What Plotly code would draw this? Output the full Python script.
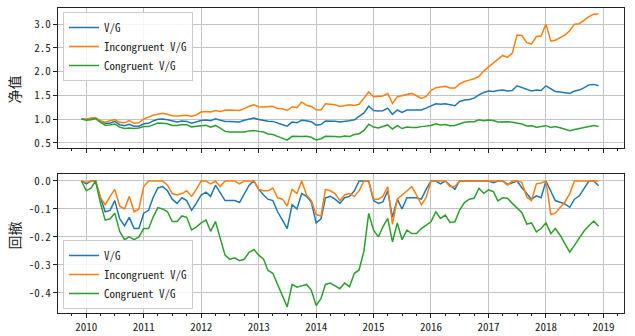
import pandas as pd
import plotly.graph_objects as go
from plotly.subplots import make_subplots

dates = pd.date_range("2009-12-01", periods=109, freq="MS")

nav_vg = [
    1.00, 0.99, 1.01, 1.02, 0.96, 0.91, 0.91, 0.95, 0.88, 0.857,
    0.887, 0.847, 0.847, 0.90, 0.91, 0.96, 0.995, 1.00, 0.985, 0.955,
    0.94, 0.96, 0.95, 0.91, 0.94, 0.97, 0.98, 0.965, 1.005, 0.98,
    0.95, 0.95, 0.95, 0.94, 0.975, 1.005, 1.02, 0.99, 0.97, 0.955,
    0.95, 0.91, 0.88, 0.85, 0.935, 0.92, 0.975, 0.965, 0.945, 0.87,
    0.885, 0.96, 0.965, 0.955, 0.94, 0.96, 0.965, 0.985, 1.06, 1.13,
    1.27, 1.18, 1.17, 1.175, 1.23, 1.10, 1.19, 1.14, 1.19, 1.19,
    1.19, 1.19, 1.23, 1.28, 1.32, 1.31, 1.32, 1.30, 1.28, 1.37,
    1.40, 1.41, 1.44, 1.51, 1.56, 1.59, 1.58, 1.60, 1.61, 1.59,
    1.60, 1.70, 1.66, 1.62, 1.59, 1.61, 1.60, 1.70, 1.63, 1.58,
    1.57, 1.56, 1.54, 1.59, 1.61, 1.66, 1.72, 1.73, 1.70,
]
nav_incong = [
    1.00, 0.995, 1.02, 1.02, 0.96, 0.935, 0.965, 0.99, 0.93, 0.92,
    0.965, 0.91, 0.92, 1.00, 1.04, 1.08, 1.10, 1.12, 1.10, 1.07,
    1.065, 1.07, 1.08, 1.06, 1.085, 1.15, 1.16, 1.15, 1.18, 1.16,
    1.185, 1.19, 1.19, 1.18, 1.22, 1.27, 1.30, 1.26, 1.255, 1.255,
    1.27, 1.22, 1.215, 1.18, 1.26, 1.24, 1.36, 1.29, 1.265, 1.195,
    1.19, 1.32, 1.31, 1.30, 1.265, 1.29, 1.30, 1.285, 1.31, 1.44,
    1.57, 1.47, 1.47, 1.485, 1.54, 1.33, 1.47, 1.49, 1.515, 1.54,
    1.49, 1.435, 1.475, 1.60, 1.66, 1.67, 1.69, 1.655, 1.655, 1.74,
    1.79, 1.82, 1.85, 1.90, 2.01, 2.10, 2.18, 2.25, 2.34, 2.30,
    2.39, 2.77, 2.76, 2.61, 2.58, 2.74, 2.75, 3.00, 2.64, 2.66,
    2.71, 2.77, 2.86, 3.00, 3.01, 3.09, 3.16, 3.21, 3.22,
]
nav_cong = [
    1.00, 0.975, 0.985, 1.01, 0.93, 0.87, 0.875, 0.895, 0.83, 0.80,
    0.81, 0.80, 0.81, 0.84, 0.84, 0.88, 0.915, 0.91, 0.90, 0.865,
    0.865, 0.885, 0.88, 0.835, 0.845, 0.86, 0.87, 0.83, 0.865, 0.81,
    0.74, 0.725, 0.73, 0.72, 0.725, 0.75, 0.76, 0.74, 0.725, 0.685,
    0.675, 0.635, 0.595, 0.555, 0.635, 0.625, 0.63, 0.635, 0.615, 0.56,
    0.585, 0.635, 0.64, 0.63, 0.62, 0.64, 0.63, 0.675, 0.69, 0.76,
    0.89, 0.83, 0.81, 0.845, 0.875, 0.79, 0.86, 0.80, 0.83, 0.82,
    0.82, 0.84, 0.85, 0.865, 0.90, 0.875, 0.885, 0.86, 0.865, 0.905,
    0.93, 0.945, 0.945, 0.985, 0.965, 0.98, 0.97, 0.94, 0.95, 0.945,
    0.93, 0.91, 0.895, 0.855, 0.86, 0.825, 0.84, 0.86, 0.82, 0.84,
    0.815, 0.785, 0.755, 0.78, 0.80, 0.83, 0.85, 0.865, 0.845,
]
dd_vg = [
    0, -0.01, 0, 0, -0.06, -0.11, -0.105, -0.07, -0.135, -0.16,
    -0.13, -0.17, -0.17, -0.115, -0.105, -0.06, -0.025, -0.02, -0.035, -0.065,
    -0.08, -0.06, -0.07, -0.105, -0.08, -0.05, -0.04, -0.055, -0.015, -0.04,
    -0.07, -0.07, -0.07, -0.077, -0.045, -0.015, 0, -0.03, -0.05, -0.065,
    -0.07, -0.11, -0.14, -0.17, -0.085, -0.1, -0.045, -0.055, -0.075, -0.15,
    -0.135, -0.06, -0.055, -0.065, -0.08, -0.06, -0.055, -0.035, 0, 0,
    0, -0.07, -0.08, -0.075, -0.035, -0.13, -0.065, -0.1, -0.06, -0.06,
    -0.06, -0.065, -0.03, 0, 0, -0.01, 0, -0.015, -0.03, 0,
    0, 0, 0, 0, 0, 0, -0.006, 0, 0, -0.012,
    -0.006, 0, -0.024, -0.047, -0.065, -0.053, -0.06, 0, -0.04, -0.07,
    -0.076, -0.082, -0.094, -0.065, -0.053, -0.024, 0, 0, -0.017,
]
dd_incong = [
    0, -0.005, 0, 0, -0.06, -0.085, -0.055, -0.03, -0.09, -0.1,
    -0.055, -0.11, -0.1, -0.02, 0, 0, 0, 0, -0.015, -0.045,
    -0.05, -0.045, -0.035, -0.055, -0.03, 0, 0, -0.01, 0, -0.02,
    0, 0, 0, -0.01, 0, 0, 0, -0.03, -0.035, -0.035,
    -0.025, -0.06, -0.065, -0.09, -0.03, -0.045, 0, -0.05, -0.07, -0.12,
    -0.125, -0.03, -0.035, -0.045, -0.07, -0.05, -0.045, -0.055, -0.035, 0,
    0, -0.065, -0.065, -0.055, -0.02, -0.155, -0.065, -0.05, -0.035, -0.02,
    -0.05, -0.085, -0.06, 0, 0, 0, 0, -0.02, -0.02, 0,
    0, 0, 0, 0, 0, 0, 0, 0, 0, -0.015,
    0, 0, -0.005, -0.058, -0.07, -0.01, -0.007, 0, -0.12, -0.115,
    -0.095, -0.075, -0.045, 0, 0, 0, 0, 0, 0,
]
dd_cong = [
    0, -0.035, -0.025, 0, -0.08, -0.14, -0.135, -0.115, -0.18, -0.21,
    -0.2, -0.21, -0.2, -0.17, -0.17, -0.13, -0.095, -0.1, -0.11, -0.145,
    -0.145, -0.125, -0.13, -0.175, -0.165, -0.15, -0.14, -0.18, -0.145, -0.2,
    -0.265, -0.28, -0.275, -0.285, -0.28, -0.255, -0.245, -0.265, -0.28, -0.32,
    -0.33, -0.37, -0.41, -0.45, -0.37, -0.38, -0.375, -0.37, -0.39, -0.445,
    -0.42, -0.37, -0.365, -0.375, -0.385, -0.365, -0.378, -0.33, -0.318, -0.25,
    -0.116, -0.176, -0.2, -0.164, -0.134, -0.218, -0.15, -0.21, -0.176, -0.188,
    -0.188, -0.17, -0.158, -0.146, -0.11, -0.134, -0.122, -0.148, -0.146, -0.104,
    -0.077, -0.065, -0.062, -0.026, -0.044, -0.032, -0.038, -0.071, -0.06, -0.062,
    -0.08, -0.098, -0.113, -0.154, -0.15, -0.182, -0.17, -0.15, -0.188, -0.17,
    -0.194, -0.224, -0.254, -0.23, -0.206, -0.178, -0.16, -0.143, -0.162,
]

series_names = ["V/G", "Incongruent V/G", "Congruent V/G"]
colors = ["#1f77b4", "#ff7f0e", "#2ca02c"]
nav_ticks = [0.5, 1.0, 1.5, 2.0, 2.5, 3.0]
nav_ticktext = ["0.5", "1.0", "1.5", "2.0", "2.5", "3.0"]
dd_ticks = [0.0, -0.1, -0.2, -0.3, -0.4]
dd_ticktext = ["0.0", "-0.1", "-0.2", "-0.3", "-0.4"]
ylabels = ["净值", "回撤"]

W, H = 635, 336
ML, MR, MT, MB = 58, 11, 8, 23
ph = H - MT - MB

FONT = "Noto Sans Mono CJK SC, Liberation Mono, monospace"

fig = make_subplots(rows=2, cols=1, shared_xaxes=True, vertical_spacing=0.05)

for name, col, s in zip(series_names, colors, [nav_vg, nav_incong, nav_cong]):
    n = min(len(s), len(dates))
    fig.add_trace(go.Scatter(x=dates[:n], y=s[:n], mode="lines", name=name,
                             line=dict(color=col, width=1.5), legend="legend"),
                  row=1, col=1)
for name, col, s in zip(series_names, colors, [dd_vg, dd_incong, dd_cong]):
    n = min(len(s), len(dates))
    fig.add_trace(go.Scatter(x=dates[:n], y=s[:n], mode="lines", name=name,
                             line=dict(color=col, width=1.5), legend="legend2"),
                  row=2, col=1)

def py(abs_y):
    return (H - MB - abs_y) / ph

def px(abs_x):
    return (abs_x - ML) / (W - ML - MR)

xcommon = dict(
    range=["2009-07-05", "2019-05-12"], type="date",
    showline=True, linecolor="#222", linewidth=1, mirror=True,
    showgrid=True, gridcolor="#c4c4c4", gridwidth=1,
    ticks="outside", ticklen=4, tickcolor="#222",
    tick0="2010-01-01", dtick="M12", tickformat="%Y",
    minor=dict(ticks="outside", ticklen=2, tickcolor="#222", dtick="M3",
               tick0="2010-01-01", showgrid=False),
    tickfont=dict(family=FONT, size=11, color="#222"),
    zeroline=False,
)
ycommon = dict(
    showline=True, linecolor="#222", linewidth=1, mirror=True,
    showgrid=True, gridcolor="#c4c4c4", gridwidth=1,
    ticks="outside", ticklen=4, tickcolor="#222",
    tickfont=dict(family=FONT, size=11, color="#222"),
    zeroline=False,
)
legend_style = dict(
    bgcolor="rgba(255,255,255,0.85)", bordercolor="#cccccc", borderwidth=1,
    font=dict(family=FONT, size=11, color="#222"), tracegroupgap=0,
)

fig.update_layout(
    width=W, height=H,
    margin=dict(l=ML, r=MR, t=MT, b=MB, autoexpand=False),
    paper_bgcolor="white", plot_bgcolor="white",
    xaxis=dict(xcommon, domain=[0, 1], showticklabels=False, anchor="y"),
    xaxis2=dict(xcommon, domain=[0, 1], showticklabels=True, anchor="y2"),
    yaxis=dict(ycommon, domain=[py(147.5), py(8)], range=[0.40, 3.34],
               tickvals=nav_ticks, ticktext=nav_ticktext),
    yaxis2=dict(ycommon, domain=[py(313), py(174)], range=[-0.472, 0.025],
                tickvals=dd_ticks, ticktext=dd_ticktext),
    legend=dict(legend_style, x=px(63), y=py(12), xanchor="left", yanchor="top"),
    legend2=dict(legend_style, x=px(63), y=py(309), xanchor="left", yanchor="bottom"),
    showlegend=True,
)

for lab, ay in zip(ylabels, [90, 236]):
    fig.add_annotation(text=lab, xref="paper", yref="paper",
                       x=px(13.5), y=py(ay),
                       xanchor="center", yanchor="middle", textangle=-90,
                       showarrow=False,
                       font=dict(family="Noto Sans CJK SC", size=14, color="#222"))

fig.write_html("out.html")
